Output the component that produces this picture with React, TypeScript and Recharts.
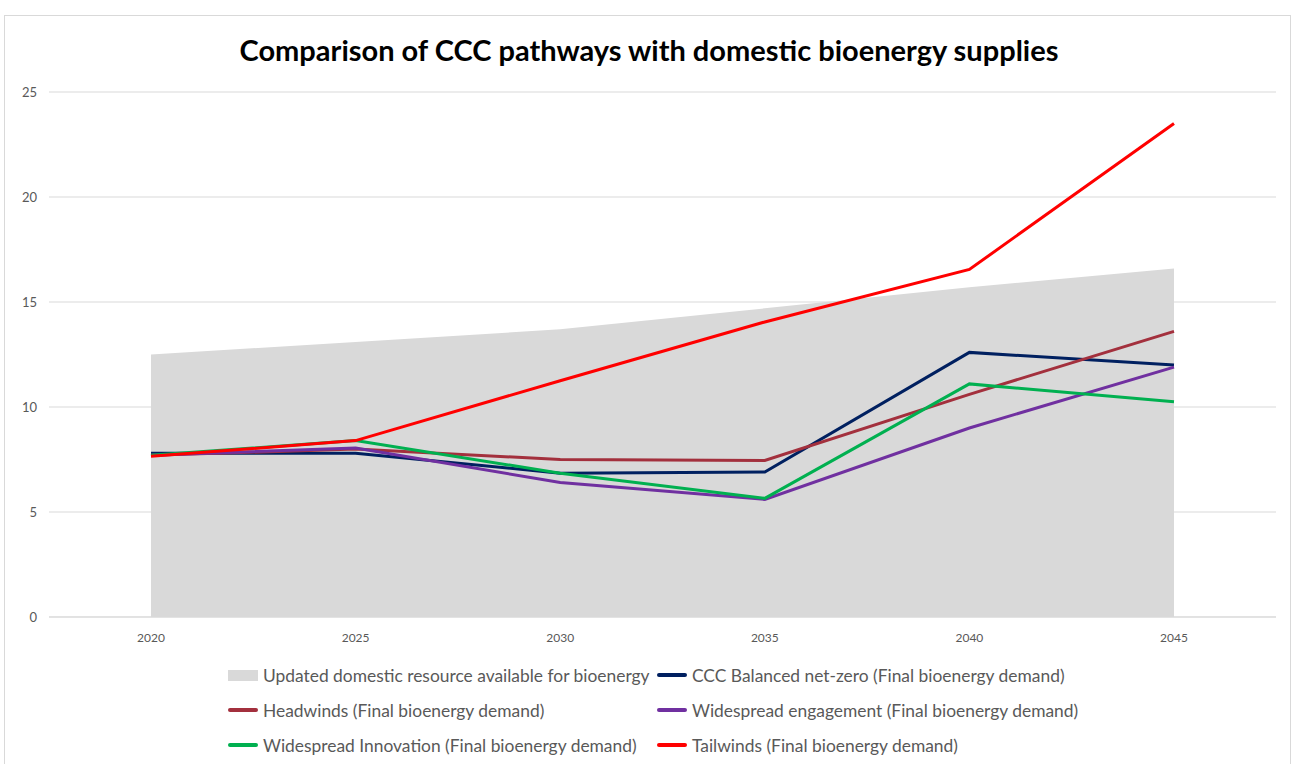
import { ComposedChart, Area, Line, XAxis, YAxis, CartesianGrid } from 'recharts'

const years = ['2020', '2025', '2030', '2035', '2040', '2045']
const resource = [12.5, 13.1, 13.7, 14.7, 15.7, 16.6]
const balanced = [7.8, 7.8, 6.85, 6.9, 12.6, 12.0]
const headwinds = [7.7, 8.0, 7.5, 7.45, 10.6, 13.6]
const engagement = [7.7, 8.05, 6.4, 5.6, 9.0, 11.9]
const innovation = [7.7, 8.4, 6.85, 5.65, 11.1, 10.25]
const tailwinds = [7.65, 8.4, 11.25, 14.05, 16.55, 23.5]
const yTicks = [0, 5, 10, 15, 20, 25]

const FONT = 'Lato, Calibri, sans-serif'
const AXIS_GREY = '#595959'

const lines = [
  { key: 'balanced', name: 'CCC Balanced net-zero (Final bioenergy demand)', color: '#002060' },
  { key: 'headwinds', name: 'Headwinds (Final bioenergy demand)', color: '#A3303D' },
  { key: 'engagement', name: 'Widespread engagement (Final bioenergy demand)', color: '#7030A0' },
  { key: 'innovation', name: 'Widespread Innovation (Final bioenergy demand)', color: '#00B050' },
  { key: 'tailwinds', name: 'Tailwinds (Final bioenergy demand)', color: '#FF0000' },
]

const legendItems = [
  { name: 'Updated domestic resource available for bioenergy', color: '#D9D9D9', area: true },
  ...lines.map(l => ({ name: l.name, color: l.color, area: false })),
]

const data = years.map((year, i) => ({
  year,
  resource: resource[i],
  balanced: balanced[i],
  headwinds: headwinds[i],
  engagement: engagement[i],
  innovation: innovation[i],
  tailwinds: tailwinds[i],
}))

export default function App() {
  return (
    <div style={{ position: 'absolute', left: 0, top: 0, width: 1298, height: 764, background: '#fff', overflow: 'hidden', fontFamily: FONT }}>
      {/* chart frame */}
      <div style={{ position: 'absolute', left: 4, top: 15, width: 1287, height: 770, border: '1px solid #D9D9D9', boxSizing: 'border-box' }} />

      <div style={{ position: 'absolute', left: 0, top: 32, width: 1298, textAlign: 'center', fontSize: 29, fontWeight: 700, color: '#000' }}>
        Comparison of CCC pathways with domestic bioenergy supplies
      </div>

      <div style={{ position: 'absolute', left: 0, top: 0 }}>
        <ComposedChart width={1298} height={764} data={data} margin={{ top: 92, right: 22, bottom: 117, left: 9 }}>
          <CartesianGrid vertical={false} stroke="#D9D9D9" />
          <XAxis
            dataKey="year"
            height={30}
            padding={{ left: 102, right: 102 }}
            axisLine={{ stroke: '#D9D9D9' }}
            tickLine={false}
            tickMargin={10}
            tick={{ fill: AXIS_GREY, fontSize: 12, fontFamily: FONT }}
          />
          <YAxis
            width={40}
            domain={[0, 25]}
            ticks={yTicks}
            axisLine={false}
            tickLine={false}
            tickMargin={6}
            tick={{ fill: AXIS_GREY, fontSize: 13, fontFamily: FONT }}
          />
          <Area
            type="linear"
            dataKey="resource"
            fill="#D9D9D9"
            fillOpacity={1}
            stroke="none"
            isAnimationActive={false}
          />
          {lines.map(l => (
            <Line
              key={l.key}
              type="linear"
              dataKey={l.key}
              name={l.name}
              stroke={l.color}
              strokeWidth={3}
              dot={false}
              isAnimationActive={false}
            />
          ))}
        </ComposedChart>
      </div>

      {/* legend, two columns */}
      <div style={{ position: 'absolute', left: 228, top: 663, display: 'grid', gridTemplateColumns: '429px 440px', rowGap: 11, fontSize: 17.4, color: AXIS_GREY }}>
        {legendItems.map(item => (
          <div key={item.name} style={{ display: 'flex', alignItems: 'center', height: 24, whiteSpace: 'nowrap' }}>
            <span
              style={{
                display: 'inline-block',
                width: 30,
                height: item.area ? 11 : 4,
                background: item.color,
                marginRight: 5,
                borderRadius: item.area ? 0 : 2,
              }}
            />
            {item.name}
          </div>
        ))}
      </div>
    </div>
  )
}
